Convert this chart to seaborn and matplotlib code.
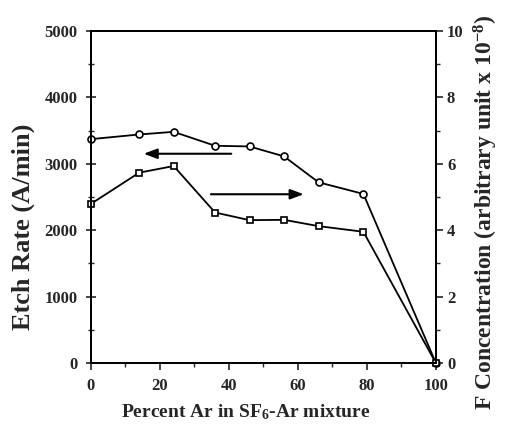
import matplotlib
matplotlib.use("Agg")
import matplotlib.pyplot as plt
from matplotlib.ticker import MultipleLocator
import seaborn as sns
import pandas as pd

# Percent Ar in the SF6-Ar feed
ar_percent_etch = [0, 14, 24, 36, 46, 56, 66, 79, 100]
etch_rate = [3370, 3440, 3480, 3270, 3260, 3110, 2720, 2545, 0]

ar_percent_f = [0, 14, 24, 36, 46, 56, 66, 79, 100]
f_conc = [4.79, 5.73, 5.93, 4.53, 4.30, 4.31, 4.12, 3.95, 0.0]

sns.set_style("white")
plt.rcParams["font.family"] = ["Liberation Serif", "DejaVu Serif"]
plt.rcParams["font.weight"] = "bold"
plt.rcParams["mathtext.fontset"] = "custom"
plt.rcParams["mathtext.rm"] = "Liberation Serif:bold"
plt.rcParams["mathtext.default"] = "rm"

fig, ax = plt.subplots(figsize=(5.05, 4.29), dpi=100)
fig.subplots_adjust(left=0.180, right=0.863, top=0.928, bottom=0.154)

df_etch = pd.DataFrame({"ar": ar_percent_etch, "rate": etch_rate})
df_f = pd.DataFrame({"ar": ar_percent_f, "f": f_conc})

sns.lineplot(data=df_etch, x="ar", y="rate", ax=ax, color="black", lw=1.3,
             marker="o", markersize=5, markerfacecolor="white",
             markeredgecolor="black", markeredgewidth=1.2, clip_on=False)
ax2 = ax.twinx()
sns.lineplot(data=df_f, x="ar", y="f", ax=ax2, color="black", lw=1.3,
             marker="s", markersize=4.6, markerfacecolor="white",
             markeredgecolor="black", markeredgewidth=1.2, clip_on=False)

ax.set_xlim(0, 100)
ax.set_ylim(0, 5000)
ax2.set_ylim(0, 10)

for a in (ax, ax2):
    for s in a.spines.values():
        s.set_linewidth(1.4)
        s.set_color("black")

ax.xaxis.set_major_locator(MultipleLocator(20))
ax.xaxis.set_minor_locator(MultipleLocator(10))
ax.yaxis.set_major_locator(MultipleLocator(1000))
ax.yaxis.set_minor_locator(MultipleLocator(500))
ax2.yaxis.set_major_locator(MultipleLocator(2))
ax2.yaxis.set_minor_locator(MultipleLocator(1))

ax.tick_params(axis="x", which="major", direction="out", length=5, width=1.2,
               labelsize=12, pad=6, bottom=True, top=False)
ax.tick_params(axis="x", which="minor", direction="out", length=3, width=1.0,
               bottom=True, top=False)
ax.tick_params(axis="y", which="major", direction="inout", length=7, width=1.2,
               labelsize=12, pad=6, left=True, right=False)
ax.tick_params(axis="y", which="minor", direction="inout", length=4, width=1.0,
               left=True, right=False)
ax2.tick_params(axis="y", which="major", direction="out", length=5, width=1.2,
                labelsize=12, pad=3, right=True, left=False)
ax2.tick_params(axis="y", which="minor", direction="out", length=3, width=1.0,
                right=True, left=False)

for lab in ax.get_xticklabels() + ax.get_yticklabels() + ax2.get_yticklabels():
    lab.set_fontweight("bold")

ax.set_xlabel("Percent Ar in SF$_6$-Ar mixture", fontsize=14, fontweight="bold")
ax.xaxis.set_label_coords(0.449, -0.118)
ax.set_ylabel("Etch Rate (A/min)", fontsize=19, fontweight="bold")
ax.yaxis.set_label_coords(-0.163, 0.41)
ax2.set_ylabel("F Concentration (arbitrary unit x 10$^{-8}$)", fontsize=17,
               fontweight="bold")
ax2.yaxis.set_label_coords(1.105, 0.455)

# Arrows pointing each curve to its own axis
ax.annotate("", xy=(0.145, 0.63), xytext=(0.415, 0.63),
            xycoords="axes fraction",
            arrowprops=dict(arrowstyle="-|>,head_length=0.8,head_width=0.3",
                        color="black", lw=1.5))
ax.annotate("", xy=(0.625, 0.508), xytext=(0.34, 0.508),
            xycoords="axes fraction",
            arrowprops=dict(arrowstyle="-|>,head_length=0.8,head_width=0.3",
                        color="black", lw=1.5))

fig.savefig("out.png", dpi=100)
